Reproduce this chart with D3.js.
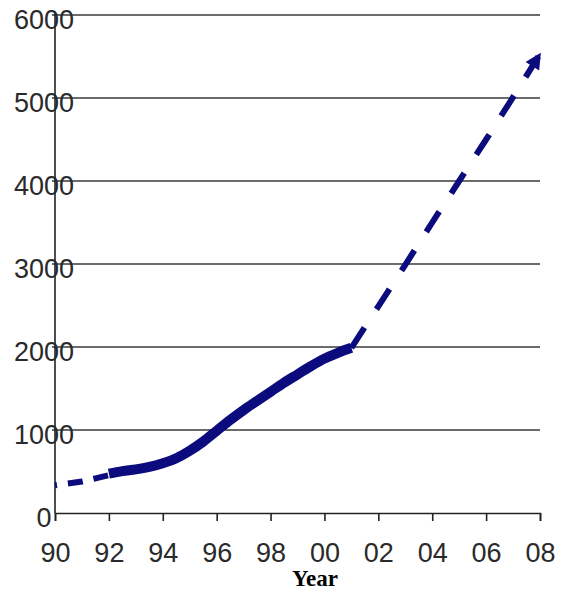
<!DOCTYPE html>
<html><head><meta charset="utf-8">
<script src="https://cdn.jsdelivr.net/npm/d3@7"></script>
<style>
html,body{margin:0;padding:0;background:#fff;}
svg{display:block;}
</style>
</head><body>
<svg id="chart" width="566" height="592"></svg>
<script>
// ---- data ----
const yTicks = [0, 1000, 2000, 3000, 4000, 5000, 6000];
const xTicks = [1990, 1992, 1994, 1996, 1998, 2000, 2002, 2004, 2006, 2008];
const earlyYears = [1990, 1991, 1992];
const earlyValues = [335, 380, 455];
const actualYears = [1992, 1992.5, 1993, 1993.5, 1994, 1994.5, 1995, 1995.5, 1996, 1996.5, 1997, 1997.5, 1998, 1998.5, 1999, 1999.5, 2000, 2000.5, 2001];
const actualValues = [475, 505, 525, 555, 600, 660, 750, 860, 990, 1120, 1240, 1350, 1460, 1570, 1670, 1770, 1860, 1930, 1990];
const projYears = [2001, 2002, 2003, 2004, 2005, 2006, 2007, 2008];
const projValues = [1990, 2490, 2990, 3500, 4000, 4500, 5010, 5530];
const xTitle = "Year";

// ---- layout ----
const svg = d3.select("#chart");
const x = d3.scaleLinear().domain([1990, 2008]).range([55, 540]);
const y = d3.scaleLinear().domain([0, 6000]).range([513, 15]);
const navy = "#0b0b7e";

// gridlines
svg.append("g").selectAll("line").data(yTicks.filter(d => d > 0)).join("line")
  .attr("x1", x(1990) - 3).attr("x2", x(2008))
  .attr("y1", d => y(d)).attr("y2", d => y(d))
  .attr("stroke", "#3a3a3a").attr("stroke-width", 1.6);

// x axis
const xAxis = d3.axisBottom(x).tickValues(xTicks)
  .tickFormat(d => String(d % 100).padStart(2, "0"))
  .tickSize(8).tickPadding(22);
const gx = svg.append("g").attr("transform", `translate(0,${y(0)})`).call(xAxis);
gx.select(".domain").attr("stroke", "#222").attr("stroke-width", 1.6);
gx.selectAll(".tick line").attr("stroke", "#222").attr("stroke-width", 1.6);
gx.selectAll(".tick text").attr("font-family", "'Liberation Sans', Arial, sans-serif")
  .attr("font-size", 27).attr("fill", "#2a2a2a").attr("dy", "0.71em");

// y axis line
svg.append("line").attr("x1", x(1990)).attr("x2", x(1990))
  .attr("y1", y(6000) - 2).attr("y2", y(0))
  .attr("stroke", "#222").attr("stroke-width", 1.6);

// y labels (centred, overlapping axis like the original)
svg.append("g").selectAll("text").data(yTicks).join("text")
  .attr("x", 44).attr("y", d => y(d)).attr("dy", "0.5em")
  .attr("text-anchor", "middle")
  .attr("font-family", "'Liberation Sans', Arial, sans-serif")
  .attr("font-size", 27).attr("fill", "#2a2a2a")
  .text(d => d);

// x title
svg.append("text").attr("x", 315).attr("y", 586)
  .attr("text-anchor", "middle")
  .attr("font-family", "'Liberation Serif', 'Times New Roman', serif")
  .attr("font-weight", "bold").attr("font-size", 23).attr("fill", "#000")
  .text(xTitle);

// arrow marker
svg.append("defs").append("marker")
  .attr("id", "arrow").attr("viewBox", "0 0 10 10")
  .attr("refX", 9).attr("refY", 5)
  .attr("markerUnits", "userSpaceOnUse")
  .attr("markerWidth", 18).attr("markerHeight", 16)
  .attr("orient", "auto")
  .append("path").attr("d", "M0,0 L10,5 L0,10 Z").attr("fill", navy);

const line = d3.line().x(d => x(d[0])).y(d => y(d[1]));

// early dashed
svg.append("path").datum(d3.zip(earlyYears, earlyValues))
  .attr("d", line.curve(d3.curveLinear))
  .attr("fill", "none").attr("stroke", navy).attr("stroke-width", 6)
  .attr("stroke-dasharray", "15,11").attr("stroke-dashoffset", 13);

// actual solid
svg.append("path").datum(d3.zip(actualYears, actualValues))
  .attr("d", line.curve(d3.curveMonotoneX))
  .attr("fill", "none").attr("stroke", navy).attr("stroke-width", 10)
  .attr("stroke-linejoin", "round");

// projection dashed with arrow
svg.append("path").datum(d3.zip(projYears, projValues))
  .attr("d", line.curve(d3.curveLinear))
  .attr("fill", "none").attr("stroke", navy).attr("stroke-width", 6)
  .attr("stroke-dasharray", "24,22")
  .attr("marker-end", "url(#arrow)");
</script>
</body></html>
